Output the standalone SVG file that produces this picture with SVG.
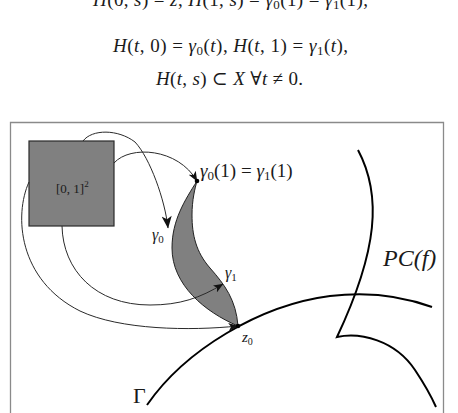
<svg xmlns="http://www.w3.org/2000/svg" width="458" height="413" viewBox="0 0 458 413">
<style>
.t{font-family:"Liberation Serif","DejaVu Serif",serif;fill:#1a1a1a}
.it{font-style:italic}
.conn{fill:none;stroke:#2a2a2a;stroke-width:1}
.thick{fill:none;stroke:#000;stroke-width:2;stroke-linejoin:miter}
</style>
<defs>
<marker id="arr" viewBox="0 0 10 8" refX="9.5" refY="4" markerWidth="10" markerHeight="8" markerUnits="userSpaceOnUse" orient="auto">
<path d="M0,0 L10,4 L0,8 L2.5,4 Z" fill="#111"/>
</marker>
<marker id="arrL" viewBox="0 0 10 8" refX="9.5" refY="4" markerWidth="14" markerHeight="10" markerUnits="userSpaceOnUse" orient="auto">
<path d="M0,0 L10,4 L0,8 L2.5,4 Z" fill="#111"/>
</marker>
</defs>
<rect width="458" height="413" fill="#fff"/>

<g id="formulas" class="t" font-size="19">
<text x="93" y="6" textLength="275" lengthAdjust="spacing"><tspan class="it">H</tspan>(0, <tspan class="it">s</tspan>) = <tspan class="it">z</tspan>, <tspan class="it">H</tspan>(1, <tspan class="it">s</tspan>) = <tspan class="it">γ</tspan><tspan font-size="13" dy="3">0</tspan><tspan dy="-3">(1) = </tspan><tspan class="it">γ</tspan><tspan font-size="13" dy="3">1</tspan><tspan dy="-3">(1),</tspan></text>
<text x="113" y="52" textLength="235" lengthAdjust="spacing"><tspan class="it">H</tspan>(<tspan class="it">t</tspan>, 0) = <tspan class="it">γ</tspan><tspan font-size="13" dy="3">0</tspan><tspan dy="-3">(</tspan><tspan class="it">t</tspan>), <tspan class="it">H</tspan>(<tspan class="it">t</tspan>, 1) = <tspan class="it">γ</tspan><tspan font-size="13" dy="3">1</tspan><tspan dy="-3">(</tspan><tspan class="it">t</tspan>),</text>
<text x="156" y="85" textLength="147" lengthAdjust="spacing"><tspan class="it">H</tspan>(<tspan class="it">t</tspan>, <tspan class="it">s</tspan>) ⊂ <tspan class="it">X</tspan> ∀<tspan class="it">t</tspan> ≠ 0.</text>
</g>

<g id="frame">
<path d="M10.5,413 V122.5 H443.5 V413" fill="none" stroke="#8a8a8a" stroke-width="1.3"/>
</g>

<g id="Gamma">
<path class="thick" d="M147,405 C185,350 260,305 330,296 C370,291 405,297 432,307"/>
<text class="t" x="133" y="403" font-size="22">Γ</text>
</g>

<g id="PCf">
<path class="thick" d="M358,150 C382,195 378,250 337,337 C360,332 395,340 415,370 C425,385 432,398 436,407"/>
<text class="t it" x="383" y="266" font-size="24">PC(f)</text>
</g>

<g id="homotopy-region">
<path d="M197,181 C185,200 172,220 172,248 C172,285 205,312 238,326 C236,300 225,285 210,268 C196,252 192,235 192,215 C192,200 195,188 197,181 Z" fill="#808080" stroke="#222" stroke-width="1"/>
<text class="t" x="152" y="240" font-size="16"><tspan class="it">γ</tspan><tspan font-size="11" dy="3">0</tspan></text>
<text class="t" x="225" y="278" font-size="16"><tspan class="it">γ</tspan><tspan font-size="11" dy="3">1</tspan></text>
</g>

<g id="square">
<rect x="29" y="141" width="85" height="85" fill="#808080" stroke="#2a2a2a" stroke-width="1.2"/>
<text class="t" x="56" y="193" font-size="13" fill="#222">[0, 1]<tspan font-size="9" dy="-6">2</tspan></text>
</g>

<g id="connectors">
<path class="conn" stroke-width="1.3" d="M83,141 C92,129 118,129 135,142 C150,158 165,200 168,228" marker-end="url(#arrL)"/>
<path class="conn" d="M114,163 C130,145 178,148 197,181" marker-end="url(#arr)"/>
<path class="conn" d="M29,182 C14,215 18,280 80,311 C120,330 190,331 238,326" marker-end="url(#arr)"/>
<path class="conn" d="M62,226 C63,270 95,305 150,305 C180,305 200,298 223,284" marker-end="url(#arr)"/>
</g>

<g id="endpoint-top">
<circle cx="197" cy="181" r="2.3" fill="#000"/>
<text class="t" x="200" y="177" font-size="19"><tspan class="it">γ</tspan><tspan font-size="13" dy="3">0</tspan><tspan dy="-3">(1) = </tspan><tspan class="it">γ</tspan><tspan font-size="13" dy="3">1</tspan><tspan dy="-3">(1)</tspan></text>
</g>

<g id="z0">
<circle cx="238" cy="326" r="2.3" fill="#000"/>
<text class="t" x="242" y="342" font-size="15"><tspan class="it">z</tspan><tspan font-size="10" dy="3">0</tspan></text>
</g>
</svg>
